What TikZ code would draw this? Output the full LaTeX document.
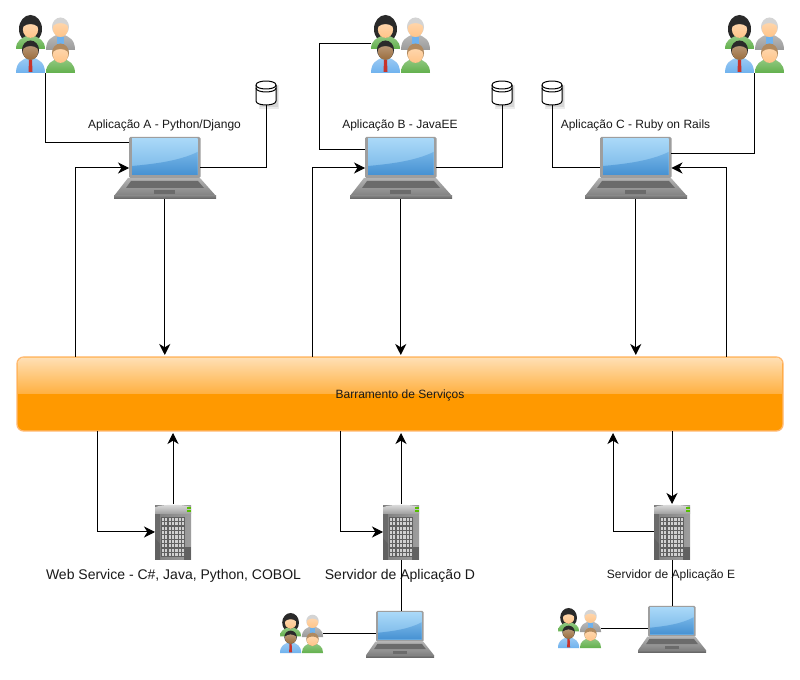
\documentclass[tikz,border=0pt]{standalone}
\usepackage{fontspec}
\setmainfont{Liberation Sans}
\usetikzlibrary{arrows.meta,calc}
\definecolor{busline}{HTML}{FFB870}
\definecolor{busfill}{HTML}{FF9900}
\definecolor{glosstop}{HTML}{FFDFB4}
\definecolor{glosslow}{HTML}{FFB040}
\definecolor{skin}{HTML}{FFC488}
\definecolor{skindark}{HTML}{9A6C3C}
\definecolor{hairblack}{HTML}{2A2A2A}
\definecolor{hairgray}{HTML}{D4D4D4}
\definecolor{hairbrown}{HTML}{B08A60}
\definecolor{shirtgreen}{HTML}{62B04C}
\definecolor{shirtblue}{HTML}{6FB2EE}
\definecolor{shirtgray}{HTML}{9A9A9A}
\definecolor{tiered}{HTML}{C8342C}
\definecolor{scrtop}{HTML}{A9D8F8}
\definecolor{scrmid}{HTML}{74B4E6}
\definecolor{scrlow}{HTML}{4691D2}
\tikzset{
  link/.style={draw=black,line width=.75pt},
  arrowlink/.style={link,-{Stealth[length=8.25pt,width=8.25pt,inset=2.5pt]}},
  gapped/.style={arrowlink,shorten >=1.5pt},
  hit/.style={inner sep=0pt,outer sep=0pt,transform shape},
  small/.style={font=\fontsize{9pt}{11pt}\selectfont,text=black!90},
  big/.style={font=\fontsize{10.5pt}{13pt}\selectfont,text=black!90},
}
% person: cx, head y, body top, body bottom, half width, skin, hair, shirt
\newcommand{\pers}[8]{%
  \shade[top color=#8!70!white,bottom color=#8]
    (#1-#5,#4) .. controls (#1-#5,#3+4) and (#1-8,#3+2) .. (#1-4,#3) -- (#1+4,#3)
    .. controls (#1+8,#3+2) and (#1+#5,#3+4) .. (#1+#5,#4) -- cycle;
  \fill[#7] (#1,#2) ellipse (8.5 and 9.5);
  \shade[top color=#6!65!white,bottom color=#6] (#1,#2+1.5) ellipse (7.6 and 8.4);
  \fill[#7] (#1-8,#2-1) .. controls (#1-7,#2-11) and (#1+7,#2-11) .. (#1+8,#2-1)
     .. controls (#1+3,#2-5) and (#1-3,#2-5) .. (#1-8,#2-1) -- cycle;
}
\newcommand{\usergroup}[6]{% name, left, top, xscale, yscale, unused
  \begin{scope}[shift={(#2,#3)},xscale=#4,yscale=#5]
    \fill[hairblack] (14.5,14) ellipse (11.5 and 14);
    \pers{14.5}{13}{21}{34}{14.5}{skin}{hairblack}{shirtgreen}
    \pers{44.5}{12}{20}{35}{14.5}{skin}{hairgray}{shirtgray}
    \fill[shirtblue] (41,22) rectangle (48,30);
    \pers{14.5}{35}{43}{58}{14.5}{skindark}{hairblack}{shirtblue}
    \fill[tiered] (13,45) -- (16,45) -- (16.5,57) -- (12.5,57) -- cycle;
    \pers{44.5}{38}{44}{58}{14.5}{skin}{hairbrown}{shirtgreen}
    \node[hit,minimum width=44.25pt,minimum height=43.5pt] (#1) at (29.5,29) {};
  \end{scope}
}
\newcommand{\laptopic}[5]{% name, left, top, xscale, yscale
  \begin{scope}[shift={(#2,#3)},xscale=#4,yscale=#5]
    \shade[top color=black!30,bottom color=black!50]
      (14,41) -- (86,41) -- (102,59) -- (0,59) -- cycle;
    \shade[top color=black!50,bottom color=black!62] (0,59) rectangle (102,62);
    \fill[black!58] (17,44) -- (84,44) -- (90,51) -- (12,51) -- cycle;
    \fill[black!58] (40,53) rectangle (61,57);
    \fill[rounded corners=1pt,black!38] (15,0) rectangle (86.5,41);
    \shade[top color=scrtop,bottom color=scrmid] (18,2) rectangle (83.5,38);
    \shade[top color=scrmid,bottom color=scrlow] (18,38) -- (18,29) .. controls (40,27) and (65,24) .. (83.5,15) -- (83.5,38) -- cycle;
    \node[hit,minimum width=53.6pt,minimum height=46.5pt] (#1) at (50.75,31) {};
  \end{scope}
}
\newcommand{\serverpic}[3]{% name, left, top
  \begin{scope}[shift={(#2,#3)}]
    \shade[left color=black!50,right color=black!38] (0,2) rectangle (36,56);
    \fill[black!58] (0,2) rectangle (5,56);
    \fill[black!62] (0,34) -- (5,40) -- (5,56) -- (0,56) -- cycle;
    \fill[black!62] (29,43) rectangle (36,56);
    \shade[top color=black!12,bottom color=black!38] (0,3) .. controls (10,0) and (26,0) .. (36,3) -- (36,10) -- (0,10) -- cycle;
    \fill[green!55!yellow!75!black] (32,3) rectangle (36,5);
    \fill[green!55!yellow!75!black] (32,6) rectangle (36,8);
    \foreach \i in {0,...,6}{\foreach \j in {0,...,8}{
      \fill[black!62] (6+3.4*\i,13+4.45*\j) rectangle +(3.4,4.45);
      \fill[black!18] (6.7+3.4*\i,13.7+4.45*\j) rectangle +(2.2,3.1);
    }}
    \node[hit,minimum width=27pt,minimum height=42pt] (#1) at (18,28) {};
  \end{scope}
}
\newcommand{\dbpic}[3]{% name, centre x, top
  \begin{scope}[shift={(#2,#3)}]
    \fill[black!8] (-7,4) rectangle (13,28);
    \fill[black!16] (-6,5) rectangle (12,26.5);
    \filldraw[fill=white,draw=black,line width=.75pt]
      (-10,4) -- (-10,20) .. controls (-10,25.3) and (10,25.3) .. (10,20) -- (10,4)
      .. controls (10,-1.3) and (-10,-1.3) .. (-10,4) -- cycle;
    \draw[line width=.75pt] (-10,4) .. controls (-10,9.3) and (10,9.3) .. (10,4);
    \draw[line width=.75pt] (-10,7) .. controls (-10,12.3) and (10,12.3) .. (10,7);
    \node[hit,minimum width=15pt,minimum height=18pt] (#1) at (0,12) {};
  \end{scope}
}
\begin{document}
\begin{tikzpicture}[x=.75pt,y=-.75pt]
  \fill[white] (0,0) rectangle (800,680);
  \useasboundingbox (0,0) rectangle (800,680);

  % bus
  \node[inner sep=0pt,outer sep=0pt,minimum width=574.5pt,minimum height=55.5pt,
        rounded corners=5pt,draw=busline,line width=1pt,fill=busfill]
        (bus) at (400,394) {};
  \shade[top color=glosstop,bottom color=glosslow]
    ([xshift=.5pt]bus.west) [rounded corners=4.5pt]
    -- ([shift={(.5pt,-.5pt)}]bus.north west)
    -- ([shift={(-.5pt,-.5pt)}]bus.north east) [sharp corners]
    -- ([xshift=-.5pt]bus.east) -- cycle;
  \node[small] (tBus) at (400,395) {Barramento de Serviços};

  % pictures
  \usergroup{uA}{16}{15}{1}{1}{}
  \usergroup{uB}{371}{15}{1}{1}{}
  \usergroup{uC}{725}{15}{1}{1}{}
  \usergroup{uD}{280}{613}{.73}{.69}{}
  \usergroup{uE}{558}{608}{.73}{.69}{}
  \laptopic{lA}{114}{137}{1}{1}
  \laptopic{lB}{350}{137}{1}{1}
  \laptopic{lC}{585}{137}{1}{1}
  \laptopic{lD}{366}{611}{.667}{.75}
  \laptopic{lE}{638}{606}{.667}{.75}
  \serverpic{sA}{155}{504}
  \serverpic{sD}{383}{504}
  \serverpic{sE}{654}{504}
  \dbpic{dA}{266}{81}
  \dbpic{dB}{502}{81}
  \dbpic{dC}{552}{81}

  % labels
  \node[small] (tA) at (164.5,125.5) {Aplicação A - Python/Django};
  \node[small] (tB) at (400,125.5) {Aplicação B - JavaEE};
  \node[small] (tC) at (635.5,125.5) {Aplicação C - Ruby on Rails};
  \node[big] (tW) at (173.5,576) {Web Service - C\#, Java, Python, COBOL};
  \node[big] (tD) at (400,576) {Servidor de Aplicação D};
  \node[small] (tE) at (671,575) {Servidor de Aplicação E};

  % helper positions
  \coordinate (xA) at (75,0);
  \coordinate (xB) at (312.5,0);
  \coordinate (xC) at (726,0);
  \coordinate (xBu) at (319.5,0);
  \coordinate (xAs) at (97.5,0);
  \coordinate (xDs) at (340.5,0);
  \coordinate (xEs) at (613,0);

  % application A
  \draw[link] (uA.south) |- ([yshift=-4.5pt]lA.north west);
  \draw[link] (lA.east) -| (dA.south);
  \draw[arrowlink] (bus.north -| xA) |- (lA.west);
  \draw[gapped] (lA.south) -- (lA.south |- bus.north);
  % application B
  \draw[link] (uB.west) -- (uB.west -| xBu) |- ([yshift=-9.75pt]lB.north west);
  \draw[link] (lB.east) -| (dB.south);
  \draw[arrowlink] (bus.north -| xB) |- (lB.west);
  \draw[gapped] (lB.south) -- (lB.south |- bus.north);
  % application C
  \draw[link] (uC.south) |- ([yshift=-12.75pt]lC.north east);
  \draw[link] (lC.west) -| (dC.south);
  \draw[arrowlink] (bus.north -| xC) |- (lC.east);
  \draw[gapped] (lC.south) -- (lC.south |- bus.north);
  % web service
  \draw[arrowlink] (bus.south -| xAs) |- (sA.west);
  \draw[gapped] (sA.north) -- (sA.north |- bus.south);
  % server D
  \draw[arrowlink] (bus.south -| xDs) |- (sD.west);
  \draw[gapped] (sD.north) -- (sD.north |- bus.south);
  \draw[link] (sD.south) -- (sD.south |- lD.north);
  \draw[link] (uD.east) -- (uD.east -| lD.west);
  % server E
  \draw[arrowlink] (sE.north |- bus.south) -- (sE.north);
  \draw[gapped] (sE.west) -| (xEs |- bus.south);
  \draw[link] (sE.south) -- (sE.south |- lE.north);
  \draw[link] (uE.east) -- (uE.east -| lE.west);
\end{tikzpicture}
\end{document}
